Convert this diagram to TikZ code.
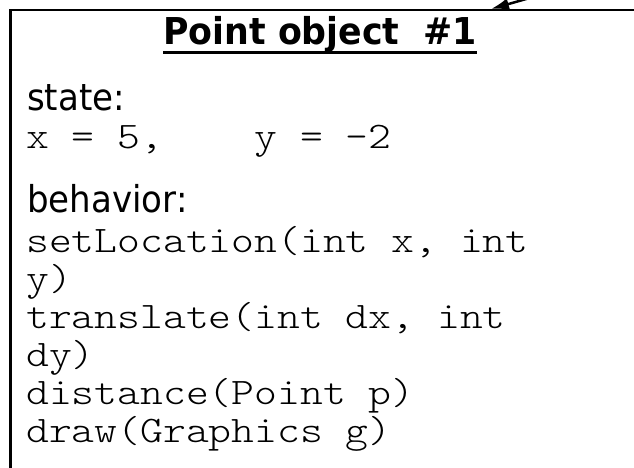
\documentclass[tikz,border=0pt]{standalone}
\usepackage{fontspec}
\setmonofont[FakeStretch=1.16]{lmmonolt10-regular.otf}
\newfontfamily\headfont[FakeStretch=0.92]{DejaVu Sans}
\newfontfamily\titlefont[FakeStretch=0.94]{DejaVu Sans}
\usetikzlibrary{arrows.meta}

\begin{document}
\begin{tikzpicture}[
  x=1pt, y=-1pt,
  objbox/.style={draw, line width=2.5pt, inner sep=0pt, anchor=north west, minimum width=700pt, minimum height=520pt},
  heading/.style={anchor=base west, inner sep=0pt, font=\titlefont\bfseries\fontsize{37}{40}\selectfont},
  label/.style={anchor=base west, inner sep=0pt, font=\headfont\fontsize{37}{40}\selectfont},
  code/.style={anchor=base west, inner sep=0pt, font=\ttfamily\fontsize{37.5}{40}\selectfont},
  ptr/.style={-{Latex[length=18pt, width=12pt]}, line width=2.5pt}
]
\useasboundingbox (0,0) rectangle (634,468);
\clip (0,0) rectangle (634,468);
\fill[white] (0,0) rectangle (634,468);

\node[objbox] (obj) at (9,9) {};
\coordinate (src) at (600,-22);
\coordinate (hit) at (491,9);
\draw[ptr] (src) -- (hit);

\node[heading] (title) at (163,45) {Point object\ \ \#1};
\draw[line width=3pt] ([yshift=-8pt]title.base west) -- ([yshift=-8pt]title.base east);

\node[label] (state) at (27,111) {state:};
\node[code] (fields) at (26,148) {x = 5,\ \ \ \ y = -2};
\node[label] (behav) at (27,212) {behavior:};
\node[code] (m1a) at (26,252) {setLocation(int x, int};
\node[code] (m1b) at (26,290) {y)};
\node[code] (m2a) at (26,328) {translate(int dx, int};
\node[code] (m2b) at (26,366) {dy)};
\node[code] (m3) at (26,404) {distance(Point p)};
\node[code] (m4) at (26,442) {draw(Graphics g)};
\end{tikzpicture}
\end{document}
